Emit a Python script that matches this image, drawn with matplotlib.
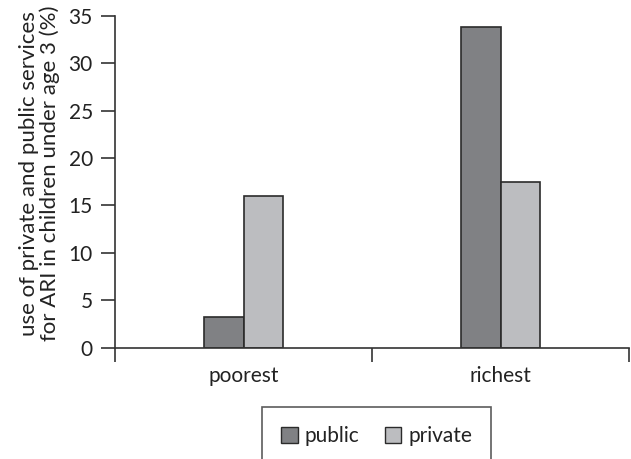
import matplotlib.pyplot as plt
import numpy as np
from matplotlib.patches import Patch

groups = ['poorest', 'richest']
public = [3.2, 33.8]
private = [16.0, 17.5]

plt.rcParams['font.family'] = ['Lato', 'DejaVu Sans']
plt.rcParams['font.size'] = 15

dark = '#808184'
light = '#bcbdc0'
edge = '#2b2b2b'

fig = plt.figure(figsize=(6.31, 4.59), dpi=100)
ax = fig.add_axes([0.1823, 0.2425, 0.8146, 0.7233])

x = np.arange(len(groups)) + 0.5
w = 0.155
ax.bar(x - w / 2, public, w, color=dark, edgecolor=edge, linewidth=1.2, label='public')
ax.bar(x + w / 2, private, w, color=light, edgecolor=edge, linewidth=1.2, label='private')

ax.set_xlim(0, 2)
ax.set_ylim(0, 35)
ax.set_yticks(range(0, 36, 5))

# group boundaries as major ticks, names as minor ticks without marks
ax.set_xticks([0, 1, 2])
ax.set_xticklabels([])
ax.set_xticks(x, minor=True)
ax.set_xticklabels(groups, minor=True)
ax.tick_params(axis='x', which='major', length=10, width=1.2, color='#333333')
ax.tick_params(axis='x', which='minor', length=0, pad=13, labelsize=15, labelcolor='#222222')
ax.tick_params(axis='y', length=10, width=1.2, color='#333333', pad=6, labelsize=15,
               labelcolor='#222222')

for s in ['top', 'right']:
    ax.spines[s].set_visible(False)
for s in ['left', 'bottom']:
    ax.spines[s].set_color('#333333')
    ax.spines[s].set_linewidth(1.2)

ax.set_ylabel('use of private and public services\nfor ARI in children under age 3 (%)',
              fontsize=16, linespacing=1.0, color='#222222')
ax.yaxis.set_label_coords(-0.107, 0.525)

handles = [Patch(facecolor=dark, edgecolor=edge, label='public'),
           Patch(facecolor=light, edgecolor=edge, label='private')]
leg = fig.legend(handles=handles, loc='lower center', bbox_to_anchor=(0.597, -0.035),
                 ncol=2, frameon=True, fancybox=False, fontsize=15,
                 borderpad=0.9, handlelength=0.8, handleheight=0.8,
                 handletextpad=0.35, columnspacing=1.2)
for t in leg.get_texts():
    t.set_color('#222222')
leg.get_frame().set_edgecolor('#333333')
leg.get_frame().set_linewidth(1.2)

fig.savefig('out.png', dpi=100)
